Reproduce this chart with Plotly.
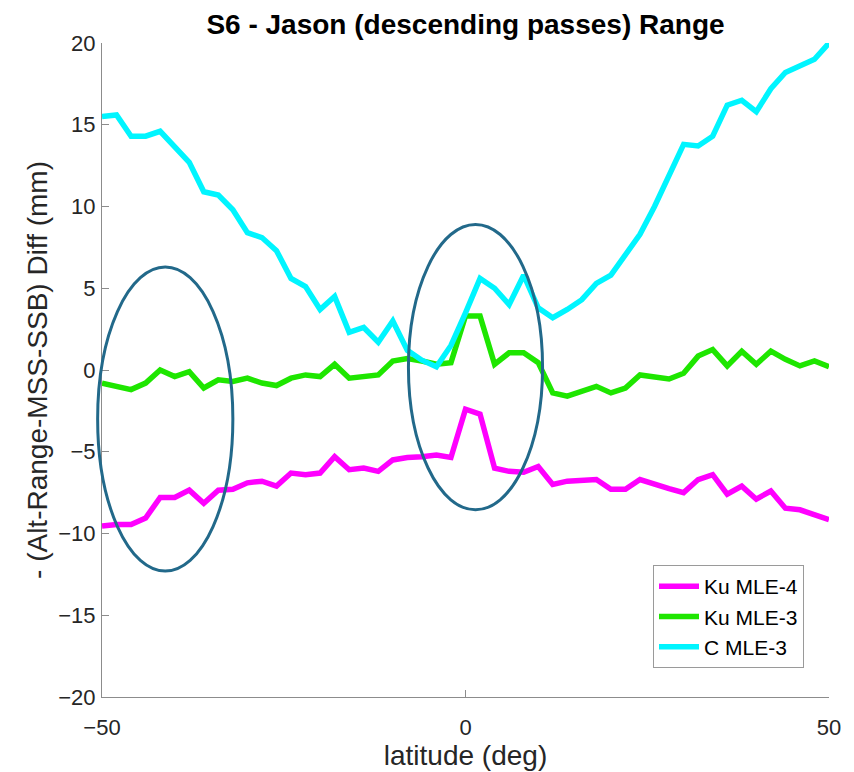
import plotly.graph_objects as go

# ---- data ----
latitude = list(range(-50, 51, 2))

ku_mle4 = [-9.55, -9.45, -9.45, -9.05, -7.8, -7.8, -7.35, -8.15, -7.35, -7.3,
           -6.9, -6.8, -7.1, -6.3, -6.4, -6.3, -5.3, -6.1, -6.0, -6.2,
           -5.5, -5.35, -5.3, -5.2, -5.35, -2.4, -2.7, -6.0, -6.2, -6.25,
           -5.9, -7.0, -6.8, -6.75, -6.7, -7.3, -7.3, -6.7, -7.0, -7.25,
           -7.5, -6.7, -6.4, -7.6, -7.1, -7.9, -7.4, -8.45, -8.55, -8.85,
           -9.15]

ku_mle3 = [-0.8, -1.0, -1.2, -0.8, 0.0, -0.4, -0.1, -1.1, -0.6, -0.7,
           -0.5, -0.8, -0.95, -0.5, -0.3, -0.4, 0.35, -0.5, -0.4, -0.3,
           0.55, 0.7, 0.55, 0.35, 0.45, 3.3, 3.3, 0.35, 1.05, 1.05,
           0.45, -1.4, -1.6, -1.3, -1.0, -1.4, -1.1, -0.3, -0.4, -0.55,
           -0.2, 0.85, 1.25, 0.25, 1.15, 0.35, 1.15, 0.65, 0.25, 0.55,
           0.2]

c_mle3 = [15.5, 15.6, 14.3, 14.3, 14.6, 13.7, 12.7, 10.9, 10.7, 9.8,
          8.4, 8.1, 7.3, 5.6, 5.1, 3.7, 4.5, 2.3, 2.6, 1.7,
          3.0, 1.2, 0.6, 0.2, 1.5, 3.5, 5.6, 5.0, 4.0, 5.8,
          3.8, 3.2, 3.7, 4.3, 5.3, 5.8, 7.0, 8.3, 10.0, 12.0,
          13.8, 13.7, 14.3, 16.2, 16.5, 15.8, 17.2, 18.2, 18.6, 19.0,
          20.0]

series_names = ["Ku MLE-4", "Ku MLE-3", "C MLE-3"]
series_colors = ["#ff00ff", "#1ee600", "#00f5ff"]

x_ticks = [-50, 0, 50]
y_ticks = [-20, -15, -10, -5, 0, 5, 10, 15, 20]
x_range = [-50, 50]
y_range = [-20, 20]

# highlight ellipses (data units): [x0, x1, y0, y1]
ellipse_left = [-50.6, -32.0, -12.3, 6.3]
ellipse_center = [-7.85, 10.6, -8.55, 8.9]

# ---- figure ----
fig = go.Figure()
for name, vals, col in zip(series_names, [ku_mle4, ku_mle3, c_mle3], series_colors):
    fig.add_trace(go.Scatter(x=latitude, y=vals, mode="lines", name=name,
                             line=dict(color=col, width=5.5)))


def to_paper(e):
    x0 = (e[0] - x_range[0]) / (x_range[1] - x_range[0])
    x1 = (e[1] - x_range[0]) / (x_range[1] - x_range[0])
    y0 = (e[2] - y_range[0]) / (y_range[1] - y_range[0])
    y1 = (e[3] - y_range[0]) / (y_range[1] - y_range[0])
    return x0, x1, y0, y1


for e in (ellipse_left, ellipse_center):
    x0, x1, y0, y1 = to_paper(e)
    fig.add_shape(type="circle", xref="paper", yref="paper",
                  x0=x0, x1=x1, y0=y0, y1=y1,
                  line=dict(color="#22698a", width=3))

font_family = "Liberation Sans, Arial, Helvetica, sans-serif"

# page body has an 8px margin, so the figure is 8px smaller
W, H = 846, 764
fig.update_layout(
    width=W, height=H,
    margin=dict(l=94, r=25, t=35, b=75, autoexpand=False),
    paper_bgcolor="white", plot_bgcolor="white",
    font=dict(family=font_family, color="#262626"),
    title=dict(text="<b>S6 - Jason (descending passes) Range</b>",
               font=dict(family=font_family, size=28, color="#000000"),
               x=0.5, xref="paper", xanchor="center",
               y=1 - 16 / H, yref="container", yanchor="middle"),
    showlegend=True,
    legend=dict(x=(653 - 102) / 727, y=(697 - 565) / 654,
                xanchor="left", yanchor="top",
                bgcolor="white", bordercolor="#9a9a9a", borderwidth=1,
                font=dict(family=font_family, size=21, color="#000000"),
                tracegroupgap=0, itemwidth=40),
)

fig.update_xaxes(range=x_range, tickvals=x_ticks, automargin=False,
                 showgrid=False, zeroline=False,
                 showline=True, linecolor="#8c8c8c", linewidth=1,
                 ticks="inside", ticklen=7, tickcolor="#8c8c8c",
                 tickfont=dict(size=22, color="#262626"),
                 ticklabelstandoff=11,
                 title=dict(text="latitude (deg)", font=dict(size=28, color="#262626"),
                            standoff=0))
fig.update_yaxes(range=y_range, tickvals=y_ticks, automargin=False,
                 showgrid=False, zeroline=False,
                 showline=True, linecolor="#8c8c8c", linewidth=1,
                 ticks="inside", ticklen=7, tickcolor="#8c8c8c",
                 tickfont=dict(size=22, color="#262626"),
                 ticklabelstandoff=1,
                 title=dict(text="- (Alt-Range-MSS-SSB) Diff (mm)",
                            font=dict(size=28, color="#262626"), standoff=2))

fig.write_html("out.html")
